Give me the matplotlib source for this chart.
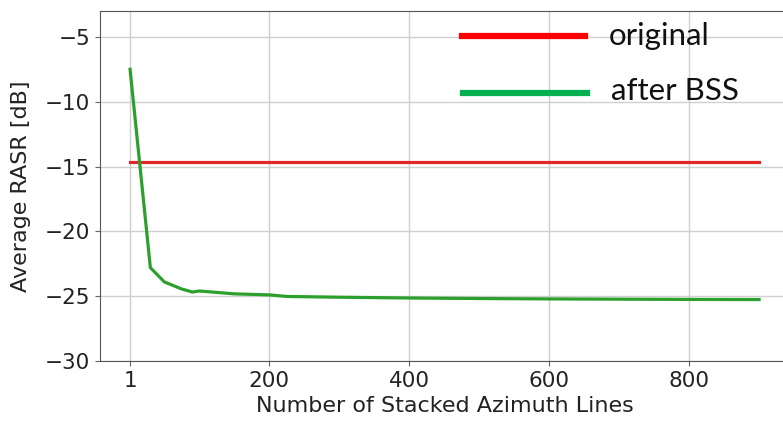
import matplotlib.pyplot as plt
from matplotlib.lines import Line2D

# data
n_lines = [1, 30, 50, 75, 90, 100, 150, 200, 225, 300, 400, 500, 600, 700, 800, 900]
rasr_bss = [-7.5, -22.8, -23.9, -24.45, -24.68, -24.6, -24.82, -24.9, -25.02, -25.08,
            -25.14, -25.18, -25.21, -25.23, -25.25, -25.26]
rasr_orig = -14.65
legend_labels = ["original", "after BSS"]

fig = plt.figure(figsize=(7.83, 4.21), dpi=100)
ax = fig.add_axes([0.1277, 0.1425, 0.882, 0.8314])

ax.plot([n_lines[0], n_lines[-1]], [rasr_orig, rasr_orig], color='#e0262a', lw=2.3)
ax.plot(n_lines, rasr_bss, color='#2ca02c', lw=2.3)

ax.set_xlim(-42, 945)
ax.set_ylim(-30, -3)
ax.set_xticks([1, 200, 400, 600, 800])
ax.set_yticks([-30, -25, -20, -15, -10, -5])
ax.tick_params(labelsize=15.5, colors='#222222', color='#666666')
ax.grid(True, color='#cfcfcf', lw=1)
for s in ax.spines.values():
    s.set_color('#555555')

ax.set_xlabel('Number of Stacked Azimuth Lines', fontsize=16, color='#222222', labelpad=4)
ax.set_ylabel('Average RASR [dB]', fontsize=16, color='#222222', labelpad=10)

# overlaid legend (pasted look)
fig.add_artist(Line2D([462/783, 585/783], [1 - 36/421, 1 - 36/421], color='#ff0000', lw=4.5))
fig.add_artist(Line2D([463/783, 587/783], [1 - 93/421, 1 - 93/421], color='#00b050', lw=4.5))
fig.text(609/783, 1 - 45/421, legend_labels[0], fontsize=22.5, family='Lato', color='#111111', va='baseline')
fig.text(611/783, 1 - 100/421, legend_labels[1], fontsize=22.5, family='Lato', color='#111111', va='baseline')

plt.savefig("out.png", dpi=100)
